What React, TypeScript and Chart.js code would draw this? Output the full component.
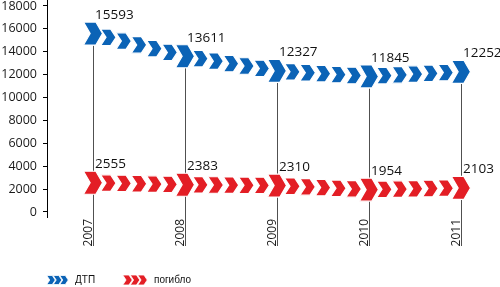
import React, { useEffect, useRef } from "react";
import { Chart, registerables } from "chart.js";

Chart.register(...registerables);

const years = [2007, 2008, 2009, 2010, 2011];
const dtp = [15593, 13611, 12327, 11845, 12252];
const killed = [2555, 2383, 2310, 1954, 2103];
const yTickValues = [0, 2000, 4000, 6000, 8000, 10000, 12000, 14000, 16000, 18000];
const seriesNames = ["ДТП", "погибло"];
const seriesColors = ["#0b63b6", "#e31e25"];

function chevron(ctx: CanvasRenderingContext2D, cx: number, cy: number, w: number, h: number, color: string, strokeW: number) {
  const d = w * 0.35;
  ctx.beginPath();
  ctx.moveTo(cx - w / 2, cy - h / 2);
  ctx.lineTo(cx + w / 2 - d, cy - h / 2);
  ctx.lineTo(cx + w / 2, cy);
  ctx.lineTo(cx + w / 2 - d, cy + h / 2);
  ctx.lineTo(cx - w / 2, cy + h / 2);
  ctx.lineTo(cx - w / 2 + d, cy);
  ctx.closePath();
  ctx.fillStyle = color;
  ctx.fill();
  if (strokeW > 0) {
    ctx.strokeStyle = "#ffffff";
    ctx.lineWidth = strokeW;
    ctx.lineJoin = "miter";
    ctx.stroke();
  }
}

const chevronPlugin = {
  id: "chevronMarks",
  beforeDatasetsDraw(chart: any) {
    const ctx = chart.ctx as CanvasRenderingContext2D;
    const pts = chart.getDatasetMeta(0).data;
    const bottom = chart.chartArea.bottom + 29;
    ctx.save();
    ctx.strokeStyle = "#505050";
    ctx.lineWidth = 1;
    pts.forEach((p: any) => {
      const x = Math.round(p.x) + 0.5;
      ctx.beginPath();
      ctx.moveTo(x, p.y + 12);
      ctx.lineTo(x, bottom);
      ctx.stroke();
    });
    ctx.restore();
  },
  afterDatasetsDraw(chart: any) {
    const ctx = chart.ctx as CanvasRenderingContext2D;
    ctx.save();
    chart.data.datasets.forEach((ds: any, di: number) => {
      const pts = chart.getDatasetMeta(di).data;
      const color = seriesColors[di];
      for (let i = 0; i < pts.length; i++) {
        const p = pts[i];
        chevron(ctx, p.x, p.y, 19, 23, color, 1.2);
        if (i < pts.length - 1) {
          const q = pts[i + 1];
          for (let k = 1; k <= 5; k++) {
            const t = k / 6;
            chevron(ctx, p.x + (q.x - p.x) * t, p.y + (q.y - p.y) * t, 15.5, 16.5, color, 1.2);
          }
        }
      }
      ctx.fillStyle = "#111111";
      ctx.font = "13.5px 'Open Sans', sans-serif";
      ctx.textAlign = "left";
      ctx.textBaseline = "middle";
      pts.forEach((p: any, i: number) => {
        ctx.fillText(String(ds.data[i].y), p.x + 2, p.y - 18.5);
      });
    });
    ctx.restore();
  },
  afterDraw(chart: any) {
    const ctx = chart.ctx as CanvasRenderingContext2D;
    ctx.save();
    const cy = 280;
    const items = [
      { x0: 51, w: 8.5, h: 9, step: 6.5, tx: 75 },
      { x0: 127.5, w: 9.5, h: 10, step: 7.5, tx: 154 },
    ];
    items.forEach((it, i) => {
      for (let k = 0; k < 3; k++) {
        chevron(ctx, it.x0 + k * it.step, cy, it.w, it.h, seriesColors[i], 0.8);
      }
      ctx.fillStyle = "#111111";
      ctx.font = "10px 'Liberation Sans', sans-serif";
      ctx.textAlign = "left";
      ctx.textBaseline = "middle";
      ctx.fillText(seriesNames[i], it.tx, cy);
    });
    ctx.restore();
  },
};

export default function App() {
  const ref = useRef<HTMLCanvasElement | null>(null);
  useEffect(() => {
    if (!ref.current) return;
    const chart = new Chart(ref.current, {
      type: "line",
      data: {
        datasets: [
          {
            label: seriesNames[0],
            data: dtp.map((v, i) => ({ x: years[i], y: v })),
            showLine: false,
            pointRadius: 0,
            borderColor: seriesColors[0],
            backgroundColor: seriesColors[0],
          },
          {
            label: seriesNames[1],
            data: killed.map((v, i) => ({ x: years[i], y: v })),
            showLine: false,
            pointRadius: 0,
            borderColor: seriesColors[1],
            backgroundColor: seriesColors[1],
          },
        ],
      },
      options: {
        animation: false,
        responsive: true,
        maintainAspectRatio: false,
        layout: { padding: { top: 0, right: 0, bottom: 0, left: 0 } },
        plugins: { legend: { display: false }, tooltip: { enabled: false } },
        scales: {
          x: {
            type: "linear",
            min: 2006.5,
            max: 2011.424,
            grid: { display: false, drawTicks: false },
            border: { display: false },
            ticks: {
              autoSkip: false,
              minRotation: 90,
              maxRotation: 90,
              padding: 2,
              labelOffset: -4,
              color: "#1a1a1a",
              font: { family: "'Open Sans', sans-serif", size: 12 },
              callback: (v: any) => String(v),
            },
            afterBuildTicks: (scale: any) => {
              scale.ticks = years.map((v) => ({ value: v }));
            },
            afterFit: (scale: any) => {
              scale.height = 70;
              scale.paddingLeft = 0;
              scale.paddingRight = 0;
            },
          },
          y: {
            type: "linear",
            min: -437,
            max: 18524,
            grid: { display: true, drawOnChartArea: false, drawTicks: true, tickLength: 4, color: "#000000" },
            border: { display: true, color: "#000000", width: 1 },
            ticks: {
              padding: 6,
              color: "#1a1a1a",
              font: { family: "'Open Sans', sans-serif", size: 12.5 },
              callback: (v: any) => String(v),
            },
            afterBuildTicks: (scale: any) => {
              scale.ticks = yTickValues.map((v) => ({ value: v }));
            },
            afterFit: (scale: any) => {
              scale.width = 47;
              scale.paddingTop = 0;
              scale.paddingBottom = 0;
            },
          },
        },
      },
      plugins: [chevronPlugin],
    });
    return () => chart.destroy();
  }, []);
  return (
    <div style={{ position: "fixed", left: 0, top: 0, width: 500, height: 287 }}>
      <canvas ref={ref} />
    </div>
  );
}
